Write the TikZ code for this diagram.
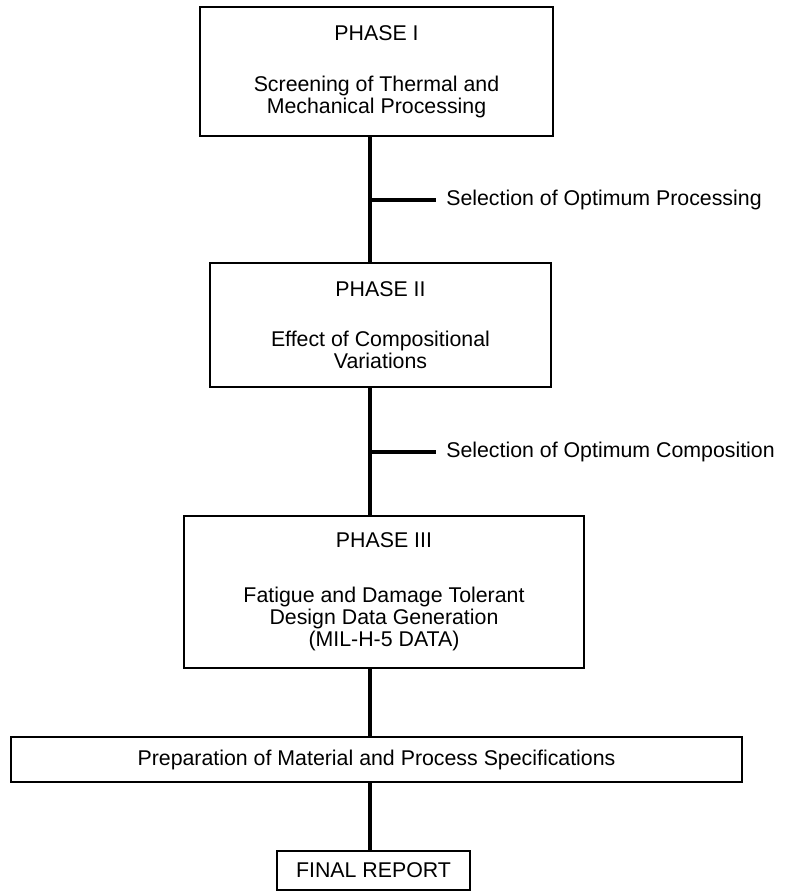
\documentclass[tikz,border=0pt]{standalone}
\usepackage{fontspec}
\setmainfont{Liberation Sans}
\usetikzlibrary{positioning,calc}

\begin{document}
\begin{tikzpicture}[x=0.75pt, y=-0.75pt,
    phasebox/.style={draw, line width=2pt, align=center, inner sep=0pt,
        font=\fontsize{16}{16.5}\selectfont},
    seltext/.style={anchor=west, inner xsep=7.5pt, inner ysep=0pt,
        font=\fontsize{16}{16.5}\selectfont},
    spine/.style={line width=3pt}]
    \useasboundingbox (0,0) rectangle (790,892);

    \node[phasebox, minimum width=264.75pt, minimum height=96.75pt] (ph1) at (376.5, 71.5)
        {PHASE I\\[21.5pt] Screening of Thermal and\\ Mechanical Processing};
    \node[phasebox, minimum width=255.75pt, minimum height=93pt] (ph2) at (380.5, 325)
        {PHASE II\\[20.5pt] Effect of Compositional\\ Variations};
    \node[phasebox, minimum width=300pt, minimum height=114pt] (ph3) at (384, 592)
        {PHASE III\\[24.5pt] Fatigue and Damage Tolerant\\ Design Data Generation\\ (MIL-H-5 DATA)};
    \node[phasebox, minimum width=548.25pt, minimum height=33.75pt] (spec) at (376.5, 759.5)
        {Preparation of Material and Process Specifications};
    \node[phasebox, minimum width=144.75pt, minimum height=29.25pt] (final) at (373.5, 870.5)
        {FINAL REPORT};

    % selection branches
    \coordinate (axis) at (370, 0);
    \coordinate (br1) at (370, 200);
    \coordinate (br2) at (370, 452);
    \node[seltext] (sel1) at (436, 200) {Selection of Optimum Processing};
    \node[seltext] (sel2) at (436, 452) {Selection of Optimum Composition};

    \draw[spine] (ph1.south -| axis) -- (ph2.north -| axis);
    \draw[spine] (ph2.south -| axis) -- (ph3.north -| axis);
    \draw[spine] (ph3.south -| axis) -- (spec.north -| axis);
    \draw[spine] (spec.south -| axis) -- (final.north -| axis);
    \draw[spine] (br1) -- (sel1.west);
    \draw[spine] (br2) -- (sel2.west);
\end{tikzpicture}
\end{document}
